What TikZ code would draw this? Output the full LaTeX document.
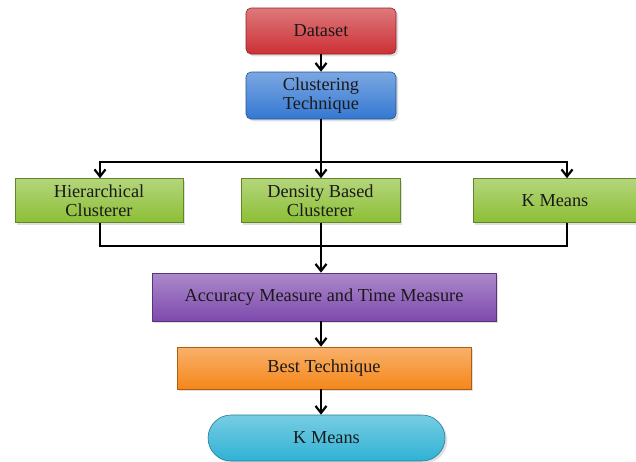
\documentclass[tikz,border=0pt]{standalone}
\usepackage{fontspec}
\setmainfont{Liberation Serif}
\usetikzlibrary{arrows.meta,shadows}

\definecolor{dsred}{HTML}{CC3035}
\definecolor{ctblue}{HTML}{3478D2}
\definecolor{clgreen}{HTML}{8CBF35}
\definecolor{ampurple}{HTML}{7E4AAE}
\definecolor{btorange}{HTML}{F5871A}
\definecolor{kmcyan}{HTML}{2FB2D4}
\definecolor{txt}{HTML}{1A1A1A}

\begin{document}
\begin{tikzpicture}[x=1pt, y=-1pt,
    box/.style={draw=#1!70!black, line width=0.6pt, top color=#1!65!white, bottom color=#1,
        minimum height=44pt, text=txt, align=center, inner sep=2pt,
        font=\fontsize{18.3}{19.5}\selectfont, drop shadow={opacity=0.25}},
    flow/.style={line width=2.6pt, -{Straight Barb[length=7pt, width=11pt, line width=2.2pt]}},
    link/.style={line width=2.6pt}]
    \useasboundingbox (0,0) rectangle (636,461);

    \node[box=dsred, rounded corners=5pt, minimum width=150pt, minimum height=46pt] (data) at (321,31) {Dataset};
    \node[box=ctblue, rounded corners=5pt, minimum width=150pt, minimum height=47pt] (clust) at (321,95.5) {Clustering\\Technique};

    \node[box=clgreen, minimum width=168pt] (hier) at (99,200.5) {Hierarchical\\Clusterer};
    \node[box=clgreen, minimum width=159pt] (dens) at (320.5,200.5) {Density Based\\Clusterer};
    \node[box=clgreen, minimum width=164pt] (km) at (555,200.5) {K Means};

    \node[box=ampurple, minimum width=344pt, minimum height=48pt] (acc) at (324,297) {Accuracy Measure and Time Measure};
    \node[box=btorange, minimum width=294pt, minimum height=42pt] (best) at (324,368) {Best Technique};
    \node[box=kmcyan, rounded corners=23pt, minimum width=237pt, minimum height=46pt] (res) at (326.5,438) {K Means};

    \coordinate (split) at (321,162);
    \coordinate (join) at (321,246);

    \draw[flow] (data.south -| split) -- (clust.north -| split);
    \draw[link] (clust.south -| split) -- (split);
    \draw[flow] (split) -| ([xshift=1pt]hier.north);
    \draw[flow] (split) -- (dens.north -| split);
    \draw[flow] (split) -| ([xshift=12pt]km.north);

    \draw[link] ([xshift=1pt]hier.south) |- (join);
    \draw[link] ([xshift=12pt]km.south) |- (join);
    \draw[link] (dens.south -| join) -- (join);
    \draw[flow] (join) -- (acc.north -| join);

    \draw[flow] (acc.south -| split) -- (best.north -| split);
    \draw[flow] (best.south -| split) -- (res.north -| split);
\end{tikzpicture}
\end{document}
